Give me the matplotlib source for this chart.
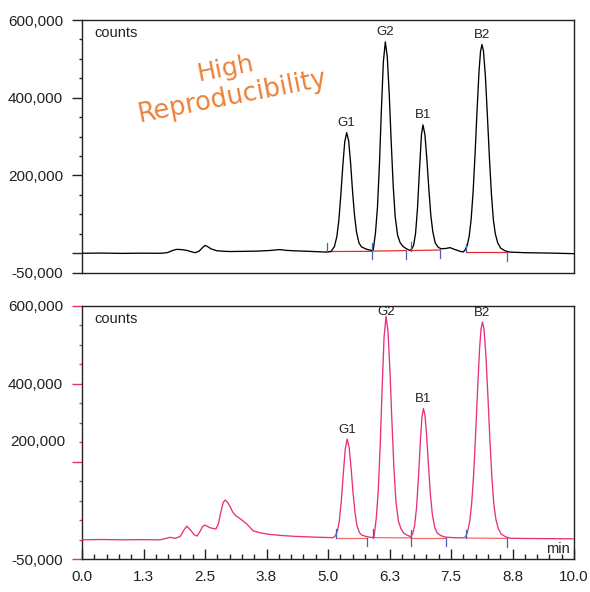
import matplotlib
matplotlib.use("Agg")
import matplotlib.pyplot as plt
from matplotlib.ticker import MultipleLocator, FixedLocator, FixedFormatter
import numpy as np

plt.rcParams['font.family'] = ['Liberation Sans', 'DejaVu Sans']

# ---- chromatogram traces (min, counts) ----
top_t = [0.00, 0.40, 0.80, 1.20, 1.60, 1.73, 1.85, 1.92, 2.02, 2.13, 2.25, 2.30,
         2.38, 2.45, 2.50, 2.55, 2.62, 2.74, 2.90, 3.01, 3.30, 3.55, 3.80, 4.02,
         4.15, 4.29, 4.50, 4.70, 4.97, 5.06, 5.13, 5.18, 5.22, 5.26, 5.30, 5.34,
         5.38, 5.42, 5.46, 5.50, 5.54, 5.58, 5.63, 5.68, 5.78, 5.88, 5.92, 5.965,
         6.005, 6.045, 6.085, 6.125, 6.165, 6.205, 6.245, 6.285, 6.325, 6.365,
         6.415, 6.465, 6.525, 6.595, 6.66, 6.70, 6.74, 6.78, 6.82, 6.86, 6.90,
         6.93, 6.97, 7.01, 7.05, 7.09, 7.13, 7.18, 7.24, 7.30, 7.40, 7.48, 7.58,
         7.70, 7.75, 7.79, 7.83, 7.87, 7.91, 7.95, 7.99, 8.03, 8.07, 8.10, 8.13,
         8.16, 8.20, 8.24, 8.28, 8.32, 8.36, 8.40, 8.45, 8.51, 8.59, 8.69, 9.00,
         9.50, 10.00]
top_counts = [-500, 0, -800, -300, -500, 1000, 7000, 9500, 9000, 6900, 2500, 1000,
              5000, 14000, 19700, 17000, 11000, 6000, 4500, 4000, 4500, 5000, 6500, 9000,
              7000, 6000, 5000, 4000, 2500, 4000, 16600, 42500, 84000, 148000, 223000, 286000,
              310000, 289000, 231000, 157000, 96000, 54000, 26000, 16000, 10000, 7000, 8000, 52000,
              117000, 227000, 368000, 492000, 543600, 505000, 408000, 285000, 174000, 94000,
              46000, 27000, 17000, 11000, 7000, 10000, 20000, 51000, 117000, 216000, 305000,
              330000, 305000, 241000, 164000, 97000, 55000, 26000, 15000, 11000, 12000, 14000, 9000,
              4000, 3000, 8700, 19700, 43700, 87600, 159000, 257000, 368000, 469000, 519000, 537000,
              520000, 453000, 353000, 247000, 155000, 87000, 50000, 26000, 12700, 6300, 2500, 1000,
              0, -1500]

bot_t = [0.00, 0.40, 0.80, 1.20, 1.59, 1.70, 1.79, 1.90, 2.00, 2.07, 2.13, 2.20,
         2.28, 2.34, 2.40, 2.45, 2.50, 2.60, 2.72, 2.77, 2.82, 2.87, 2.91, 2.96,
         3.01, 3.06, 3.11, 3.18, 3.25, 3.35, 3.48, 3.62, 3.80, 4.02, 4.30, 4.70,
         5.10, 5.14, 5.19, 5.23, 5.27, 5.31, 5.35, 5.39, 5.43, 5.47, 5.51, 5.55,
         5.59, 5.64, 5.69, 5.79, 5.88, 5.935, 5.98, 6.02, 6.06, 6.10, 6.14, 6.18,
         6.22, 6.26, 6.30, 6.34, 6.38, 6.43, 6.48, 6.54, 6.61, 6.68, 6.72, 6.76,
         6.80, 6.84, 6.88, 6.91, 6.94, 6.97, 7.00, 7.04, 7.08, 7.12, 7.17, 7.22,
         7.29, 7.38, 7.55, 7.75, 7.80, 7.84, 7.88, 7.92, 7.96, 8.00, 8.04, 8.08,
         8.11, 8.14, 8.17, 8.21, 8.25, 8.29, 8.33, 8.37, 8.41, 8.46, 8.52, 8.60,
         8.70, 9.00, 9.50, 10.00]
bot_counts = [0, 800, 0, 500, 0, 3500, 6400, 3800, 9000, 25000, 35000, 26000,
              13000, 9700, 22000, 34000, 38000, 31000, 27700, 40000, 70000, 96000, 102000, 96000,
              85000, 72000, 63600, 57000, 50800, 40500, 23000, 18000, 14000, 11500, 9000, 7000,
              5500, 8800, 21400, 48500, 99000, 168000, 232000, 258500, 237000, 183000, 119000, 69000,
              36000, 18000, 12000, 8000, 6000, 7000, 54000, 123000, 239000, 389000, 521000, 574000,
              534000, 431000, 301000, 184000, 99000, 49000, 29000, 17000, 12000, 8000, 15000, 36000,
              83000, 163000, 259000, 315000, 337000, 320000, 277000, 196000, 118000, 66000, 31000, 17600,
              11000, 7000, 5500, 5000, 8000, 22000, 47000, 93000, 167000, 269000, 384000, 489000,
              541000, 559000, 542000, 472000, 369000, 258000, 163000, 92000, 54000, 29000, 15000, 8400,
              4000, 3500, 3000, 2500]

# ---- peaks ----
peak_names = ['G1', 'G2', 'B1', 'B2']
top_peak_t = [5.38, 6.165, 6.93, 8.13]
top_peak_h = [310000, 543600, 330000, 537000]
bot_peak_t = [5.39, 6.18, 6.94, 8.14]
bot_peak_h = [258500, 574000, 337000, 559000]

# ---- integration baselines: (start, end, counts_start, counts_end) ----
top_base = [(4.98, 5.89, 4000, 4500), (5.92, 6.59, 5000, 6500),
            (6.69, 7.28, 6500, 8000), (7.80, 8.64, 1500, 1500)]
bot_base = [(5.16, 5.80, 5500, 5500), (5.92, 6.68, 5500, 5000),
            (6.68, 7.39, 5000, 5000), (7.80, 8.63, 4500, 3500)]

# ---- peak start / end marks: time, level, direction (1 up, -1 down, 0 both) ----
top_marks_t = [4.98, 5.89, 6.59, 6.69, 7.28, 7.80, 8.64]
top_marks_v = [4000, 4500, 6500, 6500, 8000, 1500, 1500]
top_marks_d = [1, 0, -1, 1, -1, 1, -1]
bot_marks_t = [5.16, 5.80, 5.92, 6.68, 7.39, 7.80, 8.63]
bot_marks_v = [5500, 5500, 5500, 5000, 5000, 4500, 3500]
bot_marks_d = [1, -1, 1, 0, -1, 1, -1]

x_ticks = [0.0, 1.25, 2.5, 3.75, 5.0, 6.25, 7.5, 8.75, 10.0]
x_labels = ['0.0', '1.3', '2.5', '3.8', '5.0', '6.3', '7.5', '8.8', '10.0']

PINK = '#e8307c'
BLUE = '#4a62b0'
TXT = '#222222'

fig = plt.figure(figsize=(5.9, 5.92), dpi=100)
ax1 = fig.add_axes([82 / 590, 1 - 272.5 / 592, 492 / 590, 252.5 / 592])
ax2 = fig.add_axes([82 / 590, 1 - 559.3 / 592, 492 / 590, 253.3 / 592])


def draw_panel(ax, t, v, color, base, base_color, mk_t, mk_v, mk_d, pk_t, pk_h):
    ax.plot(t, v, color=color, lw=0.95, zorder=3)
    for (t0, t1, v0, v1) in base:
        ax.plot([t0, t1], [v0, v1], color=base_color, lw=0.9, zorder=2)
    dv = 21000
    for mt, mv, md in zip(mk_t, mk_v, mk_d):
        lo = mv if md == 1 else mv - dv
        hi = mv if md == -1 else mv + dv
        ax.plot([mt, mt], [lo, hi], color=BLUE, lw=0.9, zorder=4)
    for name, pt, ph in zip(peak_names, pk_t, pk_h):
        ax.annotate(name, xy=(pt, min(ph, 560000)), xytext=(0, 2.5),
                    textcoords='offset points', ha='center', va='bottom',
                    fontsize=9.5, color=TXT)
    ax.set_xlim(0, 10)
    ax.set_ylim(-50000, 600000)
    ax.yaxis.set_minor_locator(MultipleLocator(50000))
    for s in ax.spines.values():
        s.set_color('#222222')
        s.set_linewidth(1.0)
    ax.text(0.026, 0.948, 'counts', transform=ax.transAxes, ha='left',
            va='center', fontsize=10.5, color=TXT)


draw_panel(ax1, top_t, top_counts, 'black', top_base, '#e82a2a',
           top_marks_t, top_marks_v, top_marks_d, top_peak_t, top_peak_h)
draw_panel(ax2, bot_t, bot_counts, PINK, bot_base, '#f06a6a',
           bot_marks_t, bot_marks_v, bot_marks_d, bot_peak_t, bot_peak_h)

# top panel axes
ax1.yaxis.set_major_locator(FixedLocator([-50000, 0, 200000, 400000, 600000]))
ax1.yaxis.set_major_formatter(FixedFormatter(['-50,000', '', '200,000', '400,000', '600,000']))
ax1.tick_params(axis='y', which='major', length=7, width=1, color='#222222',
                labelsize=11, labelcolor=TXT, pad=6.5)
ax1.tick_params(axis='y', which='minor', length=2.5, width=1, color='#222222')
ax1.set_xticks([])

# bottom panel axes
ax2.yaxis.set_major_locator(FixedLocator([-50000, 200000, 400000, 600000]))
ax2.yaxis.set_major_formatter(FixedFormatter(['-50,000', '', '400,000', '600,000']))
ax2.tick_params(axis='y', which='major', length=7, width=1, color=PINK,
                labelsize=11, labelcolor=TXT, pad=6.5)
ax2.tick_params(axis='y', which='minor', length=2.5, width=1, color=PINK)
ax2.text(-0.034, 250000, '200,000', transform=ax2.get_yaxis_transform(),
         ha='right', va='center', fontsize=11, color=TXT)
ax2.set_xticks(x_ticks)
ax2.set_xticklabels(x_labels)
ax2.xaxis.set_minor_locator(MultipleLocator(0.25))
ax2.tick_params(axis='x', which='major', direction='in', length=7, width=1,
                color='#222222', labelsize=11, labelcolor=TXT, pad=8)
ax2.tick_params(axis='x', which='minor', direction='in', length=3.5, width=1,
                color='#222222')
ax2.text(0.992, 0.041, 'min', transform=ax2.transAxes, ha='right', va='center',
         fontsize=10.5, color=TXT)

# handwritten note
fig.text(226.7 / 590, 1 - 75.8 / 592, 'High', rotation=11, rotation_mode='anchor',
         ha='center', va='baseline', fontsize=18, color='#ec8239',
         family=['DejaVu Sans'])
fig.text(233.5 / 590, 1 - 103.7 / 592, 'Reproducibility', rotation=11,
         rotation_mode='anchor', ha='center', va='baseline', fontsize=18.5,
         color='#ec8239', family=['DejaVu Sans'])

fig.savefig('out.png', dpi=100)
